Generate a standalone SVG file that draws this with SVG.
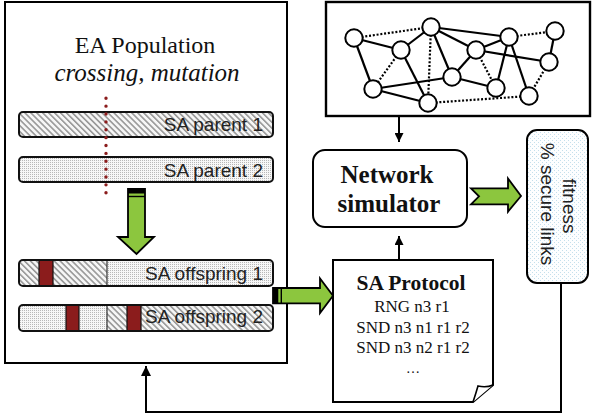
<svg xmlns="http://www.w3.org/2000/svg" width="592" height="418" viewBox="0 0 592 418">
<style>
.box{fill:#fff;stroke:#000;stroke-width:2}
.bar{fill:none;stroke:#111;stroke-width:2}
.gene{fill:#8b1c1c;stroke:#111;stroke-width:1.2}
.lbl{font-family:"Liberation Sans",Arial,sans-serif;font-size:19px;fill:#222}
.serif{font-family:"Liberation Serif","Times New Roman",serif;fill:#111}
.green{fill:#8cc63e;stroke:#000;stroke-width:1.8;stroke-linejoin:miter}
.conn{fill:none;stroke:#000;stroke-width:2}
.ed{stroke:#000;stroke-width:2.2}
.dot{stroke:#000;stroke-width:2.2;stroke-dasharray:2 1.8}
.nd{fill:#fff;stroke:#000;stroke-width:2}
</style>
<defs>
<pattern id="hatch" width="4.2" height="4.2" patternUnits="userSpaceOnUse" patternTransform="rotate(-45)">
<rect width="4.2" height="4.2" fill="#f6f6f6"/>
<line x1="0.8" y1="0" x2="0.8" y2="4.2" stroke="#8a8a8a" stroke-width="1.4"/>
</pattern>
<pattern id="dots" width="2" height="2" patternUnits="userSpaceOnUse">
<rect width="2" height="2" fill="#f7f7f7"/>
<rect width="1" height="1" fill="#b8b8b8"/>
</pattern>
<pattern id="bdots" width="4" height="4" patternUnits="userSpaceOnUse">
<rect width="4" height="4" fill="#fdfeff"/>
<rect width="1" height="1" fill="#c4dfec"/>
<rect x="2" y="2" width="1" height="1" fill="#c4dfec"/>
</pattern>
<clipPath id="c3"><rect x="19" y="260" width="254" height="26" rx="4"/></clipPath>
<clipPath id="c4"><rect x="19" y="305" width="254" height="26" rx="4"/></clipPath>
<marker id="ah" viewBox="0 0 10 10" refX="10" refY="5" markerWidth="9" markerHeight="9" markerUnits="userSpaceOnUse" orient="auto">
<path d="M0,0 L10,5 L0,10 Z" fill="#000"/>
</marker>
<marker id="ahb" viewBox="0 0 10 10" refX="10" refY="5" markerWidth="10" markerHeight="10" markerUnits="userSpaceOnUse" orient="auto">
<path d="M0,0 L10,5 L0,10 Z" fill="#000"/>
</marker>
</defs>

<rect width="592" height="418" fill="#fff"/>

<g id="ea-population">
<rect class="box" x="5" y="2" width="282" height="361"/>
<text class="serif" x="145" y="53" font-size="24" text-anchor="middle">EA Population</text>
<text class="serif" x="147" y="81" font-size="25" font-style="italic" text-anchor="middle">crossing, mutation</text>
</g>

<g id="parent1">
<rect x="19" y="112" width="254" height="25" rx="4" fill="url(#hatch)"/>
<rect class="bar" x="19" y="112" width="254" height="25" rx="4"/>
<text class="lbl" x="263" y="131" text-anchor="end">SA parent 1</text>
</g>

<g id="parent2">
<rect x="19" y="157" width="254" height="25" rx="4" fill="url(#dots)"/>
<rect class="bar" x="19" y="157" width="254" height="25" rx="4"/>
<text class="lbl" x="263" y="177" text-anchor="end">SA parent 2</text>
</g>

<g id="crossing-point">
<line x1="106" y1="98.3" x2="106" y2="193" stroke="#8b1c1c" stroke-width="3.4" stroke-linecap="round" stroke-dasharray="0 7.87"/>
</g>

<g id="offspring1">
<g clip-path="url(#c3)">
<rect x="19" y="260" width="88" height="26" fill="url(#hatch)"/>
<rect x="107" y="260" width="166" height="26" fill="url(#dots)"/>
<line x1="107" y1="260" x2="107" y2="286" stroke="#333" stroke-width="1.2"/>
</g>
<rect class="gene" x="39" y="260" width="14" height="26"/>
<rect class="bar" x="19" y="260" width="254" height="26" rx="4"/>
<text class="lbl" x="263" y="280" text-anchor="end">SA offspring 1</text>
</g>

<g id="offspring2">
<g clip-path="url(#c4)">
<rect x="19" y="305" width="88" height="26" fill="url(#dots)"/>
<rect x="107" y="305" width="166" height="26" fill="url(#hatch)"/>
<line x1="107" y1="305" x2="107" y2="331" stroke="#333" stroke-width="1.2"/>
</g>
<rect class="gene" x="66" y="305" width="13" height="26"/>
<rect class="gene" x="127" y="305" width="14" height="26"/>
<rect class="bar" x="19" y="305" width="254" height="26" rx="4"/>
<text class="lbl" x="263" y="323" text-anchor="end">SA offspring 2</text>
</g>

<g id="network-topology">
<rect x="326" y="2" width="264" height="114" fill="#fff" stroke="#000" stroke-width="2.4"/>
<g id="graph-edges">
<line class="ed" x1="354" y1="38" x2="401" y2="50"/>
<line class="ed" x1="354" y1="38" x2="373" y2="89"/>
<line class="ed" x1="431" y1="27" x2="401" y2="50"/>
<line class="ed" x1="431" y1="27" x2="509" y2="37"/>
<line class="ed" x1="431" y1="27" x2="476" y2="50"/>
<line class="ed" x1="431" y1="27" x2="452" y2="77"/>
<line class="ed" x1="401" y1="50" x2="428" y2="103"/>
<line class="ed" x1="373" y1="89" x2="452" y2="77"/>
<line class="ed" x1="373" y1="89" x2="428" y2="103"/>
<line class="ed" x1="476" y1="50" x2="452" y2="77"/>
<line class="ed" x1="476" y1="50" x2="549" y2="62"/>
<line class="ed" x1="509" y1="37" x2="476" y2="50"/>
<line class="ed" x1="509" y1="37" x2="496" y2="88"/>
<line class="ed" x1="509" y1="37" x2="529" y2="96"/>
<line class="ed" x1="555" y1="31" x2="549" y2="62"/>
<line class="ed" x1="452" y1="77" x2="496" y2="88"/>
<line class="dot" x1="354" y1="38" x2="431" y2="27"/>
<line class="dot" x1="401" y1="50" x2="373" y2="89"/>
<line class="dot" x1="431" y1="27" x2="428" y2="103"/>
<line class="dot" x1="428" y1="103" x2="529" y2="96"/>
<line class="dot" x1="476" y1="50" x2="496" y2="88"/>
<line class="dot" x1="509" y1="37" x2="555" y2="31"/>
<line class="dot" x1="549" y1="62" x2="529" y2="96"/>
</g>
<g id="graph-nodes">
<circle class="nd" cx="354" cy="38" r="8.7"/>
<circle class="nd" cx="431" cy="27" r="8.7"/>
<circle class="nd" cx="509" cy="37" r="8.7"/>
<circle class="nd" cx="555" cy="31" r="8.7"/>
<circle class="nd" cx="401" cy="50" r="8.7"/>
<circle class="nd" cx="476" cy="50" r="8.7"/>
<circle class="nd" cx="549" cy="62" r="8.7"/>
<circle class="nd" cx="373" cy="89" r="8.7"/>
<circle class="nd" cx="452" cy="77" r="8.7"/>
<circle class="nd" cx="496" cy="88" r="8.7"/>
<circle class="nd" cx="428" cy="103" r="8.7"/>
<circle class="nd" cx="529" cy="96" r="8.7"/>
</g>
</g>

<g id="network-simulator">
<rect class="box" x="313" y="150" width="154" height="77" rx="12"/>
<text class="serif" x="387" y="183" font-size="25" font-weight="bold" text-anchor="middle">Network</text>
<text class="serif" x="389" y="212" font-size="25" font-weight="bold" text-anchor="middle">simulator</text>
</g>

<g id="fitness">
<rect x="527" y="130" width="61" height="153" rx="10" fill="url(#bdots)" stroke="#000" stroke-width="2"/>
<text class="lbl" transform="translate(563,206) rotate(90)" text-anchor="middle">fitness</text>
<text class="lbl" transform="translate(541,204) rotate(90)" text-anchor="middle">% secure links</text>
</g>

<g id="sa-protocol">
<path d="M333,260 H493 V385 L473,402 H333 Z" fill="#fff" stroke="#000" stroke-width="2"/>
<path d="M473,402 Q476,393 478,386 Q486,388 493,385" fill="#fff" stroke="#000" stroke-width="1.6"/>
<text class="serif" x="411" y="290" font-size="21.5" font-weight="bold" text-anchor="middle">SA Protocol</text>
<text class="serif" x="412" y="312" font-size="17" text-anchor="middle">RNG n3 r1</text>
<text class="serif" x="413" y="333" font-size="17" text-anchor="middle">SND n3 n1 r1 r2</text>
<text class="serif" x="413" y="353" font-size="17" text-anchor="middle">SND n3 n2 r1 r2</text>
<text class="serif" x="413" y="373" font-size="14" text-anchor="middle" fill="#555">…</text>
</g>

<g id="connectors">
<line class="conn" x1="399" y1="116" x2="399" y2="142" marker-end="url(#ah)"/>
<line class="conn" x1="399" y1="260" x2="399" y2="236" marker-end="url(#ah)"/>
<polyline class="conn" points="561,283 561,412 146,412 146,366" marker-end="url(#ahb)"/>
<g id="arrow-down">
<polygon class="green" points="128,189 145,189 145,237 154,237 136.5,254 118,237 128,237"/>
<rect x="128" y="189" width="17" height="4.5" fill="#000"/>
<line x1="128" y1="196.5" x2="145" y2="196.5" stroke="#000" stroke-width="1.4"/>
</g>
<g id="arrow-right">
<polygon class="green" points="273,288 320,288 320,278.5 333,295.7 320,313 320,303.3 273,303.3"/>
<rect x="273" y="288" width="5.3" height="15.3" fill="#000"/>
<line x1="281.3" y1="288" x2="281.3" y2="303.3" stroke="#000" stroke-width="1.4"/>
</g>
<g id="arrow-notched">
<polygon class="green" points="471,188.3 508,188.3 508,178.5 521,196 508,211.7 508,204.3 471,204.3 479,196.3"/>
</g>
</g>
</svg>
